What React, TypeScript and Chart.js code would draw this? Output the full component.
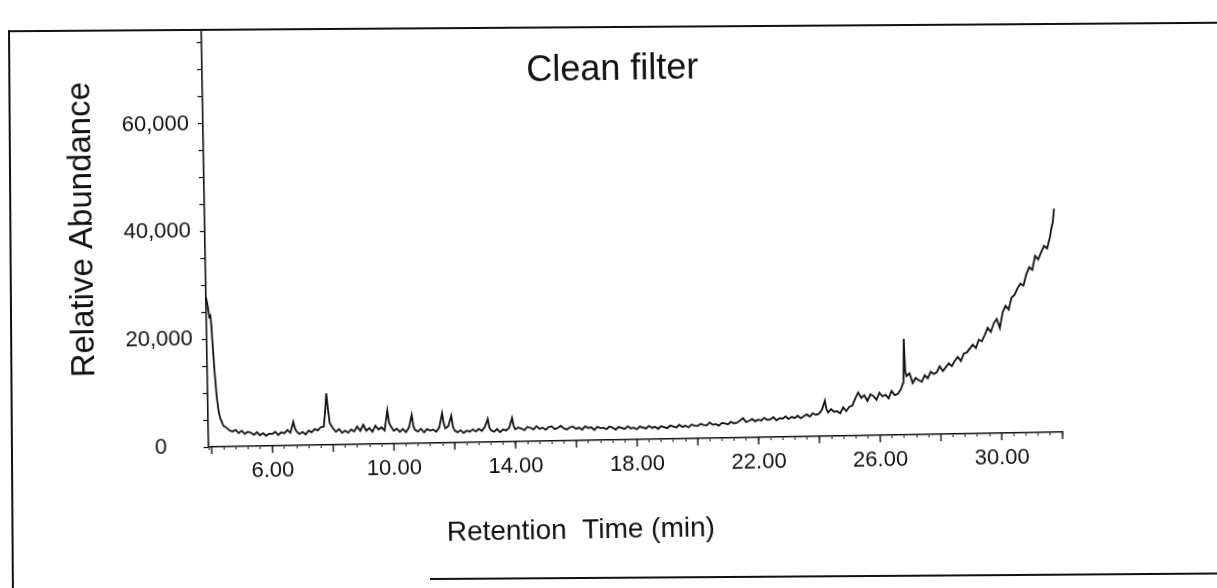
import React, { useEffect, useRef } from 'react';
import { Chart, registerables } from 'chart.js';

Chart.register(...registerables);

// ---- Data ----
const retentionTime = [
  3.9, 3.95, 4.0, 4.03, 4.06, 4.1, 4.15, 4.2, 4.25, 4.3, 4.35, 4.4, 4.5, 4.6, 4.7, 4.8, 4.9,
  5.0, 5.1, 5.2, 5.3, 5.4, 5.5, 5.6, 5.7, 5.8, 5.9,
  6.0, 6.1, 6.2, 6.3, 6.4, 6.5, 6.6, 6.7, 6.75, 6.8, 6.9,
  7.0, 7.1, 7.2, 7.3, 7.4, 7.5, 7.6, 7.7, 7.75, 7.8, 7.85, 7.9,
  8.0, 8.1, 8.2, 8.3, 8.4, 8.5, 8.6, 8.7, 8.8, 8.9,
  9.0, 9.1, 9.2, 9.3, 9.4, 9.5, 9.6, 9.7, 9.8, 9.85, 9.9,
  10.0, 10.1, 10.2, 10.3, 10.4, 10.5, 10.6, 10.65, 10.7, 10.8, 10.9,
  11.0, 11.1, 11.2, 11.3, 11.4, 11.5, 11.6, 11.65, 11.7, 11.8, 11.9, 11.95,
  12.0, 12.1, 12.2, 12.3, 12.4, 12.5, 12.6, 12.7, 12.8, 12.9,
  13.0, 13.1, 13.15, 13.2, 13.3, 13.4, 13.5, 13.6, 13.7, 13.8, 13.9, 13.95,
  14.0, 14.1, 14.2, 14.3, 14.4, 14.5, 14.6, 14.7, 14.8, 14.9,
  15.0, 15.1, 15.2, 15.3, 15.4, 15.5, 15.6, 15.7, 15.8, 15.9,
  16.0, 16.1, 16.2, 16.3, 16.4, 16.5, 16.6, 16.7, 16.8, 16.9,
  17.0, 17.1, 17.2, 17.3, 17.4, 17.5, 17.6, 17.7, 17.8, 17.9,
  18.0, 18.1, 18.2, 18.3, 18.4, 18.5, 18.6, 18.7, 18.8, 18.9,
  19.0, 19.1, 19.2, 19.3, 19.4, 19.5, 19.6, 19.7, 19.8, 19.9,
  20.0, 20.1, 20.2, 20.3, 20.4, 20.5, 20.6, 20.7, 20.8, 20.9,
  21.0, 21.1, 21.2, 21.3, 21.4, 21.5, 21.6, 21.7, 21.8, 21.9,
  22.0, 22.1, 22.2, 22.3, 22.4, 22.5, 22.6, 22.7, 22.8, 22.9,
  23.0, 23.1, 23.2, 23.3, 23.4, 23.5, 23.6, 23.7, 23.8, 23.9,
  24.0, 24.1, 24.2, 24.25, 24.3, 24.4, 24.5, 24.6, 24.7, 24.8, 24.9,
  25.0, 25.1, 25.2, 25.3, 25.4, 25.5, 25.6, 25.7, 25.8, 25.9,
  26.0, 26.1, 26.2, 26.3, 26.4, 26.5, 26.6, 26.7, 26.8, 26.83, 26.86, 26.9,
  27.0, 27.1, 27.2, 27.3, 27.4, 27.5, 27.6, 27.7, 27.8, 27.9,
  28.0, 28.1, 28.2, 28.3, 28.4, 28.5, 28.6, 28.7, 28.8, 28.9,
  29.0, 29.1, 29.2, 29.3, 29.4, 29.5, 29.6, 29.7, 29.8, 29.9,
  30.0, 30.1, 30.2, 30.3, 30.4, 30.5, 30.6, 30.7, 30.8, 30.9,
  31.0, 31.1, 31.2, 31.3, 31.4, 31.5, 31.6, 31.7, 31.75, 31.8, 31.85,
];

const abundance = [
  27800, 26200, 24000, 24600, 22500, 18000, 13000, 9000, 6600, 5300, 4600, 3900, 3500, 3000, 2800, 3100, 2500,
  2900, 2300, 2700, 2500, 2100, 2600, 2000, 2400, 1900, 2300,
  2200, 2600, 2000, 2500, 2300, 2900, 2400, 4400, 3200, 2600, 2100,
  2500, 2000, 2700, 2400, 3000, 2700, 3300, 3400, 6000, 9600, 6500, 4000,
  3100, 2400, 2900, 2200, 2600, 2200, 2800, 2400, 3300, 2500,
  3600, 2500, 3000, 2300, 3400, 2700, 3100, 2500, 6200, 4000, 3300,
  2400, 2800, 2200, 2700, 2100, 2900, 5300, 3200, 2500, 2200, 2700,
  2000, 2600, 2300, 2500, 2100, 2900, 5500, 3600, 2700, 3100, 5000, 3000,
  2300, 1900, 2300, 1800, 2200, 2000, 2400, 2000, 2500, 2100,
  2800, 4300, 2700, 2200, 1900, 2400, 1800, 2300, 2100, 2600, 4400, 2900,
  2300, 2600, 2400, 2100, 2700, 2500, 2200, 2800, 2300, 2500,
  2100, 2600, 2700, 2200, 2400, 2800, 2300, 2100, 2500, 2600,
  2200, 2400, 2000, 2600, 2300, 2400, 1900, 2500, 2200, 2300,
  2000, 2500, 2300, 1900, 2400, 2200, 2000, 2500, 2100, 2200,
  1900, 2400, 2200, 2000, 2500, 2100, 2300, 1900, 2400, 2200,
  2000, 2500, 2300, 2100, 2600, 2200, 2400, 2100, 2600, 2400,
  2300, 2700, 2500, 2400, 2900, 2500, 2600, 2300, 2800, 2700,
  2500, 3000, 2700, 2800, 3200, 3600, 2900, 3100, 3400, 3000,
  3300, 3100, 3600, 3200, 3300, 3700, 3100, 3500, 3400, 3800,
  3300, 3700, 3500, 3900, 3400, 3800, 4100, 3700, 4300, 4000,
  4200, 4900, 6600, 5000, 4400, 5000, 4500, 4600, 4200, 5300, 4600,
  5400, 5600, 6900, 8000, 7000, 7500, 6400, 7600, 7300, 6600,
  7900, 7200, 7500, 6800, 8200, 7400, 7600, 8400, 9800, 17800, 11800, 10900,
  11400, 9600, 10500, 10100, 9800, 11000, 10400, 11600, 11200, 11500,
  12600, 11700, 12400, 13100, 12600, 13600, 14300, 13500, 14900, 15100,
  15800, 16500, 15900, 17400, 17100, 18300, 19600, 18800, 20400, 21200,
  19500, 22400, 23600, 22900, 25100, 25600, 26800, 27700, 27300, 29400,
  30700, 30200, 32800, 32100, 33400, 34600, 34100, 36200, 37800, 38900, 41500,
];

const xLabelTicks = [6, 10, 14, 18, 22, 26, 30];
const xMajorTicks = [4, 6, 8, 10, 12, 14, 16, 18, 20, 22, 24, 26, 28, 30, 32];
const yTickValues = [
  0, 5000, 10000, 15000, 20000, 25000, 30000, 35000, 40000, 45000, 50000, 55000, 60000, 65000, 70000, 75000,
];
const yLabelTicks = [0, 20000, 40000, 60000];
const chartTitle = 'Clean filter';
const xAxisTitle = 'Retention  Time (min)';
const yAxisTitle = 'Relative Abundance';

const FONT = '"Liberation Sans", Arial, Helvetica, sans-serif';

export default function App() {
  const canvasRef = useRef<HTMLCanvasElement | null>(null);

  useEffect(() => {
    const canvas = canvasRef.current;
    if (!canvas) return;

    const overlay = {
      id: 'overlay',
      afterDraw(chart: any) {
        const { ctx, chartArea, scales } = chart;
        const x = scales.x;
        const y = scales.y;
        ctx.save();
        // longer major ticks every 2 min
        ctx.strokeStyle = '#111';
        ctx.lineWidth = 1.4;
        for (const t of xMajorTicks) {
          const px = x.getPixelForValue(t);
          ctx.beginPath();
          ctx.moveTo(px, chartArea.bottom);
          ctx.lineTo(px, chartArea.bottom + 7);
          ctx.stroke();
        }
        ctx.fillStyle = '#111';
        ctx.textAlign = 'center';
        ctx.textBaseline = 'middle';
        // in-plot title
        ctx.font = '36px ' + FONT;
        ctx.fillText(chartTitle, x.getPixelForValue(17.4), y.getPixelForValue(68600));
        // x-axis title
        ctx.font = '28px ' + FONT;
        ctx.fillText(xAxisTitle, x.getPixelForValue(16.1), chartArea.bottom + 90);
        // y-axis title
        ctx.save();
        ctx.translate(chartArea.left - 122, y.getPixelForValue(40700));
        ctx.rotate(-Math.PI / 2);
        ctx.font = '33px ' + FONT;
        ctx.fillText(yAxisTitle, 0, 0);
        ctx.restore();
        ctx.restore();
      },
    };

    const chart = new Chart(canvas, {
      type: 'line',
      data: {
        datasets: [
          {
            data: retentionTime.map((t, i) => ({ x: t, y: abundance[i] })),
            borderColor: '#111',
            borderWidth: 1.8,
            pointRadius: 0,
            tension: 0,
            fill: false,
          },
        ],
      },
      options: {
        animation: false,
        responsive: false,
        devicePixelRatio: 1,
        layout: { padding: { top: 25, right: 157, left: 0, bottom: 0 } },
        plugins: {
          legend: { display: false },
          tooltip: { enabled: false },
          title: { display: false },
        },
        scales: {
          x: {
            type: 'linear',
            min: 3.9,
            max: 32.0,
            afterFit: (s: any) => {
              s.height = 148;
            },
            border: { display: true, color: '#111', width: 1.6 },
            grid: {
              drawOnChartArea: false,
              drawTicks: true,
              tickLength: 3,
              tickColor: '#111',
              tickWidth: 1,
            },
            ticks: {
              stepSize: 0.4,
              autoSkip: false,
              maxRotation: 0,
              padding: 9,
              color: '#111',
              font: { family: FONT, size: 22 },
              callback: (v: any) => {
                const n = Number(v);
                return xLabelTicks.some((t) => Math.abs(t - n) < 1e-6) ? n.toFixed(2) : '';
              },
            },
            title: { display: false },
          },
          y: {
            type: 'linear',
            min: 0,
            max: 77000,
            afterBuildTicks: (s: any) => {
              s.ticks = yTickValues.map((v) => ({ value: v }));
            },
            afterFit: (s: any) => {
              s.width = 206;
            },
            border: { display: true, color: '#111', width: 1.6 },
            grid: {
              drawOnChartArea: false,
              drawTicks: true,
              tickLength: 5,
              tickColor: '#111',
              tickWidth: 1.2,
            },
            ticks: {
              autoSkip: false,
              padding: 9,
              crossAlign: 'center',
              color: '#111',
              font: { family: FONT, size: 22 },
              callback: (v: any) => {
                const n = Number(v);
                return yLabelTicks.some((t) => Math.abs(t - n) < 1) ? Math.round(n).toLocaleString('en-US') : '';
              },
            },
            title: { display: false },
          },
        },
      },
      plugins: [overlay],
    } as any);

    return () => {
      chart.destroy();
    };
  }, []);

  return (
    <div
      style={{
        position: 'fixed',
        left: 0,
        top: 0,
        width: 1217,
        height: 588,
        overflow: 'hidden',
        background: '#fff',
      }}
    >
      <div
        style={{
          position: 'absolute',
          left: 8,
          top: 26,
          width: 1400,
          height: 700,
          borderTop: '2px solid #111',
          borderLeft: '2px solid #111',
          transform: 'rotate(-0.4deg)',
          transformOrigin: '600px 0px',
        }}
      />
      <div
        style={{
          position: 'absolute',
          left: 430,
          top: 578,
          width: 900,
          height: 0,
          borderTop: '2px solid #111',
          transform: 'rotate(-0.4deg)',
          transformOrigin: '0px 0px',
        }}
      />
      <div
        style={{
          position: 'absolute',
          left: 0,
          top: 0,
          width: 1217,
          height: 588,
          transform: 'rotate(-1deg)',
          transformOrigin: '608px 294px',
        }}
      >
        <canvas
          ref={canvasRef}
          width={1217}
          height={588}
          style={{ position: 'absolute', left: 0, top: 0, display: 'block' }}
        />
      </div>
    </div>
  );
}
